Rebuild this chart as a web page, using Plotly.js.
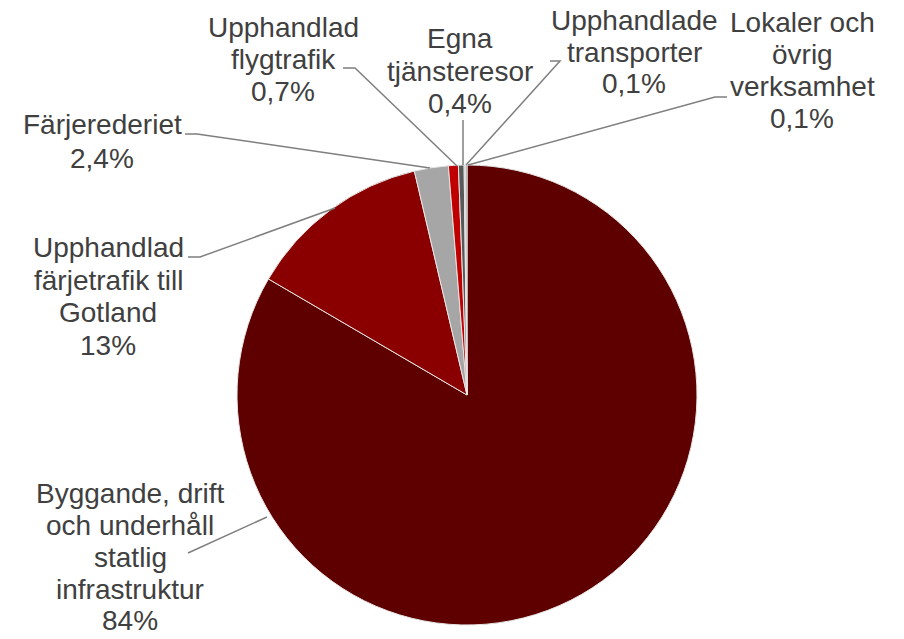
<!DOCTYPE html>
<html>
<head>
<meta charset="utf-8">
<script src="https://cdn.plot.ly/plotly-3.0.1.min.js"></script>
<style>html,body{margin:0;padding:0;background:#fff;}#chart{width:904px;height:639px;}</style>
</head>
<body>
<div id="chart"></div>
<script>
// ---- data ----
var categories = [
  "Byggande, drift<br>och underhåll<br>statlig<br>infrastruktur",
  "Upphandlad<br>färjetrafik till<br>Gotland",
  "Färjerederiet",
  "Upphandlad<br>flygtrafik",
  "Egna<br>tjänsteresor",
  "Upphandlade<br>transporter",
  "Lokaler och<br>övrig<br>verksamhet"
];
var values = [84, 13, 2.4, 0.7, 0.4, 0.1, 0.1];
var colors = ["#5E0000", "#8A0000", "#A6A6A6", "#C00000", "#595959", "#BFBFBF", "#7F7F7F"];

// ---- layout helpers (positions in pixels) ----
var W = 904, H = 639;
function px(x){ return x / W; }
function py(y){ return 1 - y / H; }

var FONT_SIZE = 28;
// label centre x, first baseline y and line gap (pixels)
var labelPos = [[130, 503, 31.8], [108, 257, 32.5], [102, 134, 34], [283, 37, 32], [460, 48, 32.5], [634, 30, 31.5], [802, 32, 32]];
var leaderLines = [
  [[267,517],[188,553]],
  [[335,208],[200,257],[188,257]],
  [[430,168],[197,134],[185,134]],
  [[457,166],[355,68],[343,68]],
  [[463,165],[463,120]],
  [[466,165],[560,61],[550,61]],
  [[468,165],[715,97],[727,97]]
];

function fmtPct(v){
  if (v >= 10) return Math.round(v) + "%";
  return v.toFixed(1).replace(".", ",") + "%";
}

var annotations = [];
categories.forEach(function(c, i){
  var lines = c.split("<br>").concat([fmtPct(values[i])]);
  lines.forEach(function(t, k){
    var baseline = labelPos[i][1] + k * labelPos[i][2];
    annotations.push({
      text: t,
      xref: "paper", yref: "paper",
      x: px(labelPos[i][0]), y: py(baseline - 0.33 * FONT_SIZE),
      xanchor: "center", yanchor: "middle",
      showarrow: false,
      borderpad: 0,
      font: {family: "Liberation Sans, Arial, sans-serif", size: FONT_SIZE, color: "#404040"}
    });
  });
});

var shapes = leaderLines.map(function(pts){
  var d = pts.map(function(p, k){ return (k === 0 ? "M" : "L") + px(p[0]) + "," + py(p[1]); }).join(" ");
  return {type: "path", xref: "paper", yref: "paper", path: d,
          line: {color: "#7F7F7F", width: 1.5}};
});

var trace = {
  type: "pie",
  labels: categories,
  values: values,
  sort: false,
  direction: "clockwise",
  rotation: 0,
  textinfo: "none",
  hoverinfo: "none",
  showlegend: false,
  marker: {colors: colors, line: {color: "#E6E6E6", width: 1}},
  domain: {x: [237 / W, 697 / W], y: [1 - 625 / H, 1 - 165 / H]}
};

var layout = {
  width: W, height: H,
  margin: {l: 0, r: 0, t: 0, b: 0},
  paper_bgcolor: "#ffffff",
  showlegend: false,
  annotations: annotations,
  shapes: shapes
};

Plotly.newPlot("chart", [trace], layout, {displayModeBar: false, staticPlot: true});
</script>
</body>
</html>
